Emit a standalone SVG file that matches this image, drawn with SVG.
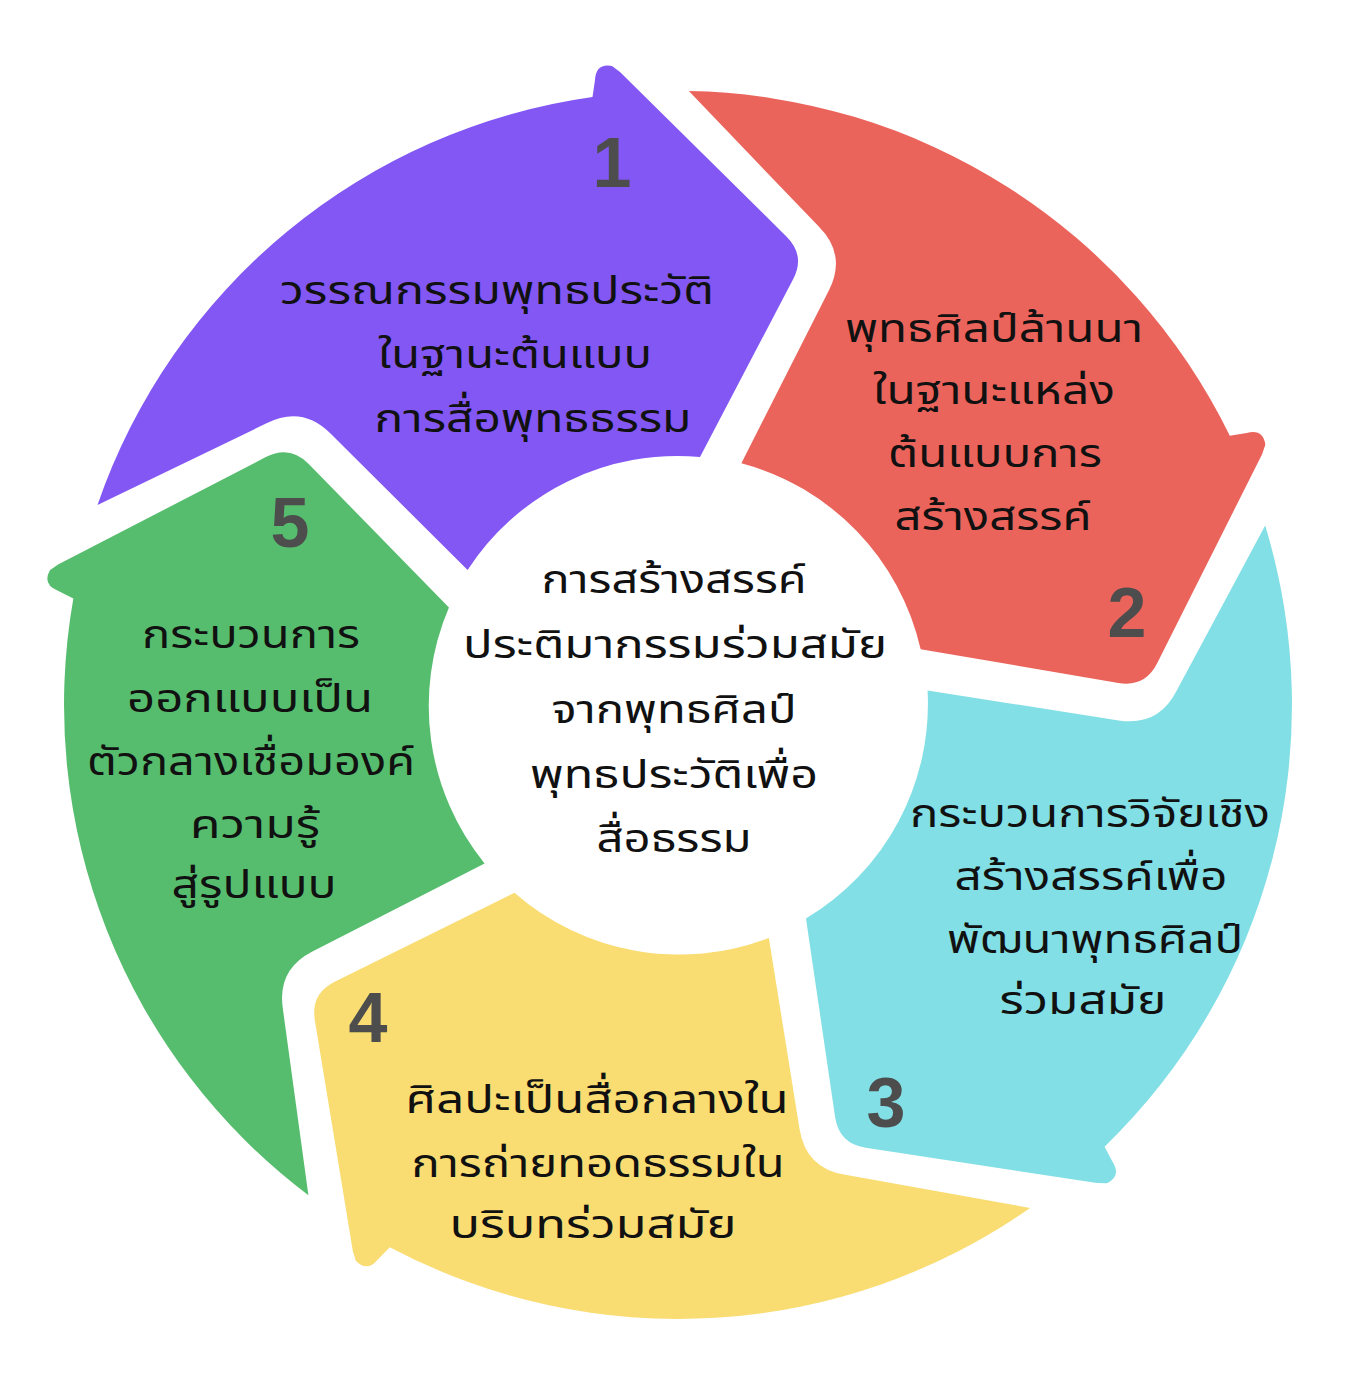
<svg xmlns="http://www.w3.org/2000/svg" width="1354" height="1376" viewBox="0 0 1354 1376">
<defs>
<path id="seg" d="M 97.5 505 A 614 614 0 0 1 592.5 97 L 595 80 Q 596 63 612 66 L 620 72 L 786.4 236.4 Q 805.6 255.4 793.1 279.3 L 700 457 A 250 250 0 0 0 467.6 570 L 330.5 433.5 Q 302.2 405.2 266.5 423.3 Z"/>
</defs>
<style>
.t{font-family:"Noto Sans Thai","Loma","Garuda","Norasi","Tlwg Typo","Noto Sans","DejaVu Sans","Liberation Sans",sans-serif;font-size:40px;fill:#111;text-anchor:middle}
.n{font-family:"Liberation Sans","DejaVu Sans",sans-serif;font-size:70px;font-weight:bold;fill:#4d4d4d;text-anchor:middle}
</style>
<rect width="1354" height="1376" fill="#ffffff"/>
<g id="node1">
<use href="#seg" fill="#8257F4"/>
<text class="n" x="612" y="187">1</text>
<text class="t" x="497" y="304" textLength="434" lengthAdjust="spacingAndGlyphs">วรรณกรรมพุทธประวัติ</text>
<text class="t" x="515" y="368" textLength="274" lengthAdjust="spacingAndGlyphs">ในฐานะต้นแบบ</text>
<text class="t" x="533" y="432" textLength="317" lengthAdjust="spacingAndGlyphs">การสื่อพุทธธรรม</text>
</g>
<g id="node2">
<use href="#seg" fill="#EB645C" transform="rotate(72 678 705)"/>
<text class="n" x="1127" y="637">2</text>
<text class="t" x="994" y="342" textLength="298" lengthAdjust="spacingAndGlyphs">พุทธศิลป์ล้านนา</text>
<text class="t" x="994" y="404" textLength="242" lengthAdjust="spacingAndGlyphs">ในฐานะแหล่ง</text>
<text class="t" x="995" y="467" textLength="214" lengthAdjust="spacingAndGlyphs">ต้นแบบการ</text>
<text class="t" x="993" y="530" textLength="197" lengthAdjust="spacingAndGlyphs">สร้างสรรค์</text>
</g>
<g id="node3">
<use href="#seg" fill="#82DFE5" transform="rotate(144 678 705)"/>
<text class="n" x="886" y="1127">3</text>
<text class="t" x="1090" y="827" textLength="360" lengthAdjust="spacingAndGlyphs">กระบวนการวิจัยเชิง</text>
<text class="t" x="1091" y="890" textLength="273" lengthAdjust="spacingAndGlyphs">สร้างสรรค์เพื่อ</text>
<text class="t" x="1095" y="953" textLength="296" lengthAdjust="spacingAndGlyphs">พัฒนาพุทธศิลป์</text>
<text class="t" x="1083" y="1014" textLength="167" lengthAdjust="spacingAndGlyphs">ร่วมสมัย</text>
</g>
<g id="node4">
<use href="#seg" fill="#F9DD72" transform="rotate(216 678 705)"/>
<text class="n" x="368" y="1042">4</text>
<text class="t" x="597" y="1113" textLength="383" lengthAdjust="spacingAndGlyphs">ศิลปะเป็นสื่อกลางใน</text>
<text class="t" x="598" y="1177" textLength="373" lengthAdjust="spacingAndGlyphs">การถ่ายทอดธรรมใน</text>
<text class="t" x="593" y="1238" textLength="287" lengthAdjust="spacingAndGlyphs">บริบทร่วมสมัย</text>
</g>
<g id="node5">
<use href="#seg" fill="#57BD6E" transform="rotate(288 678 705)"/>
<text class="n" x="290" y="547">5</text>
<text class="t" x="251" y="648" textLength="218" lengthAdjust="spacingAndGlyphs">กระบวนการ</text>
<text class="t" x="250" y="712" textLength="246" lengthAdjust="spacingAndGlyphs">ออกแบบเป็น</text>
<text class="t" x="251" y="775" textLength="328" lengthAdjust="spacingAndGlyphs">ตัวกลางเชื่อมองค์</text>
<text class="t" x="255" y="838" textLength="130" lengthAdjust="spacingAndGlyphs">ความรู้</text>
<text class="t" x="254" y="898" textLength="165" lengthAdjust="spacingAndGlyphs">สู่รูปแบบ</text>
</g>
<g id="center">
<text class="t" x="674" y="593" textLength="265" lengthAdjust="spacingAndGlyphs">การสร้างสรรค์</text>
<text class="t" x="675" y="658" textLength="424" lengthAdjust="spacingAndGlyphs">ประติมากรรมร่วมสมัย</text>
<text class="t" x="674" y="723" textLength="245" lengthAdjust="spacingAndGlyphs">จากพุทธศิลป์</text>
<text class="t" x="674" y="788" textLength="288" lengthAdjust="spacingAndGlyphs">พุทธประวัติเพื่อ</text>
<text class="t" x="674" y="852" textLength="155" lengthAdjust="spacingAndGlyphs">สื่อธรรม</text>
</g>
<g id="connectors"></g>
</svg>
